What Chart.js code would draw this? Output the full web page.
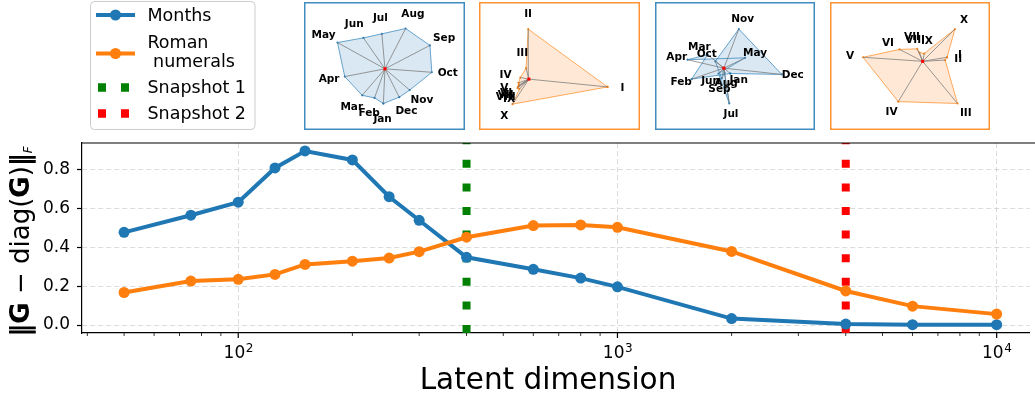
<!DOCTYPE html>
<html>
<head>
<meta charset="utf-8">
<script src="https://cdn.jsdelivr.net/npm/chart.js@4.4.1/dist/chart.umd.min.js"></script>
<style>
  html, body { margin: 0; padding: 0; background: #fff; overflow: hidden; width: 1035px; height: 393px; }
  #wrap { position: relative; width: 1035px; height: 393px; overflow: hidden; }
  #main { position: absolute; left: 0; top: 0; width: 1035px; height: 393px; }
  .inset { position: absolute; background: #fff; }
  .inset canvas { position: absolute; left: 0; top: 0; }
</style>
</head>
<body>
<div id="wrap">
  <canvas id="main" width="1035" height="393"></canvas>
</div>
<script>
// ---- main curve data -------------------------------------------------------
const latentDims   = [50, 75, 100, 125, 150, 200, 250, 300, 400, 600, 800, 1000, 2000, 4000, 6000, 10000];
const monthsNorm   = [0.476, 0.564, 0.631, 0.807, 0.894, 0.848, 0.659, 0.538, 0.348, 0.286, 0.241, 0.196, 0.033, 0.005, 0.002, 0.002];
const romanNorm    = [0.167, 0.226, 0.235, 0.260, 0.311, 0.328, 0.344, 0.377, 0.451, 0.511, 0.514, 0.502, 0.378, 0.175, 0.097, 0.056];
const snapshotDims = [400, 4000];
const snapshotNames = ['Snapshot 1', 'Snapshot 2'];
const seriesNames  = ['Months', 'Roman\n numerals'];

// ---- tick values -----------------------------------------------------------
const yTickValues  = [0.0, 0.2, 0.4, 0.6, 0.8];
const xMajorTicks  = [100, 1000, 10000];
const xMinorTicks  = [40, 50, 60, 70, 80, 90, 200, 300, 400, 500, 600, 700, 800, 900,
                      2000, 3000, 4000, 5000, 6000, 7000, 8000, 9000];

// ---- inset data: 2-D projections of the token embeddings ---------------------
const monthNames = ['Jan', 'Feb', 'Mar', 'Apr', 'May', 'Jun', 'Jul', 'Aug', 'Sep', 'Oct', 'Nov', 'Dec'];
const romanNames = ['I', 'II', 'III', 'IV', 'V', 'VI', 'VII', 'VIII', 'IX', 'X'];
const monthsAtSnapshot1 = [[-1.7, -37], [-11, -31], [-24, -28.3], [-42.3, -8.3], [-50, 28], [-22.7, 33],
                           [-3.3, 37.3], [21.7, 43], [47.3, 25], [49.3, -3.7], [26, -22.7], [15, -30.3]];
const romanAtSnapshot1  = [[82.7, -8.3], [-0.7, 53.3], [-3, 11.7], [-9, 1.7], [-11, -4], [-10.5, -6.5],
                           [-11.5, -8], [-12, -9.5], [-10, -10.5], [-17.3, -26.7]];
const monthsAtSnapshot2 = [[6.7, -5.7], [-34, -11.7], [-17, 14.5], [-38.3, 9], [22.3, 11], [-5.7, -5.7],
                           [5.7, -37.7], [0.7, -5], [-2.3, -11], [-9, 7.3], [15.7, 41.7], [61, -6.7]];
const romanAtSnapshot2  = [[25.7, 4.3], [23.7, 1.3], [36.7, -45], [-25.7, -43], [-62.7, 4.3], [-24.3, 12.7],
                           [-5.7, 13.3], [-3.3, 9.3], [1.7, 8.3], [34, 34.3]];

// ---- styling ---------------------------------------------------------------
const FONT = 'DejaVu Sans';
const BLUE = '#1f77b4', ORANGE = '#ff7f0e', GREEN = '#008000', RED = '#ff0000';
const BLUE_RGB = '31,119,180', ORANGE_RGB = '255,127,14';
const GRID = 'rgba(176,176,176,0.45)';
// the axes run past the right edge of the page; only the visible part is drawn
const X_MIN = Math.pow(10, 1.588), X_MAX = Math.pow(10, 4.0866);
const Y_MIN = -0.041, Y_MAX = 0.935;

Chart.defaults.font.family = FONT;
Chart.defaults.animation = false;

const toXY = (xs, ys) => xs.map((x, i) => ({ x: x, y: ys[i] }));

// legend, axis titles, x tick labels and the top spine
const decorations = {
  id: 'decorations',
  afterDraw(chart) {
    const ctx = chart.ctx;
    const area = chart.chartArea;
    const xs = chart.scales.x;
    ctx.save();

    // top spine
    ctx.strokeStyle = '#000';
    ctx.lineWidth = 1.2;
    ctx.beginPath();
    ctx.moveTo(area.left, area.top);
    ctx.lineTo(chart.width, area.top);
    ctx.stroke();

    // x tick marks (major + minor)
    const drawTick = (v, len, lw) => {
      const px = xs.getPixelForValue(v);
      if (px < area.left - 0.5 || px > area.right + 0.5) return;
      ctx.lineWidth = lw;
      ctx.beginPath();
      ctx.moveTo(px, area.bottom);
      ctx.lineTo(px, area.bottom + len);
      ctx.stroke();
    };
    xMinorTicks.forEach(v => drawTick(v, 3, 0.8));
    xMajorTicks.forEach(v => drawTick(v, 5, 1.2));

    // x tick labels 10^n
    ctx.fillStyle = '#000';
    ctx.textBaseline = 'alphabetic';
    ctx.textAlign = 'left';
    xMajorTicks.forEach(v => {
      const px = xs.getPixelForValue(v);
      const exp = String(Math.round(Math.log10(v)));
      ctx.font = '17px ' + FONT;
      const wBase = ctx.measureText('10').width;
      ctx.font = '12px ' + FONT;
      const wExp = ctx.measureText(exp).width;
      const x0 = px - (wBase + wExp) / 2;
      ctx.font = '17px ' + FONT;
      ctx.fillText('10', x0, 358);
      ctx.font = '12px ' + FONT;
      ctx.fillText(exp, x0 + wBase + 0.5, 351.5);
    });

    // x axis title
    ctx.font = '29.5px ' + FONT;
    ctx.textAlign = 'center';
    ctx.fillText('Latent dimension', 548, 389);

    // y axis title: ||G - diag(G)||_F
    const parts = [
      { t: '\u2016', f: 'bold 26px ' + FONT, dy: 0 },
      { t: 'G', f: 'bold 26px ' + FONT, dy: 0 },
      { t: ' \u2212 ', f: '26px ' + FONT, dy: 0 },
      { t: 'diag(', f: '26px ' + FONT, dy: 0 },
      { t: 'G', f: 'bold 26px ' + FONT, dy: 0 },
      { t: ')', f: '26px ' + FONT, dy: 0 },
      { t: '\u2016', f: 'bold 26px ' + FONT, dy: 0 },
      { t: 'F', f: 'italic 12px ' + FONT, dy: 3 }
    ];
    let total = 0;
    parts.forEach(p => { ctx.font = p.f; p.w = ctx.measureText(p.t).width; total += p.w; });
    ctx.translate(28.5, 241.5);
    ctx.rotate(-Math.PI / 2);
    ctx.textAlign = 'left';
    let cx = -total / 2;
    parts.forEach(p => { ctx.font = p.f; ctx.fillText(p.t, cx, p.dy); cx += p.w; });
    ctx.setTransform(1, 0, 0, 1, 0, 0);

    // legend
    const lx = 90.5, ly = 1.5, lw = 164.5, lh = 128;
    ctx.beginPath();
    ctx.roundRect(lx, ly, lw, lh, 4);
    ctx.fillStyle = 'rgba(255,255,255,0.85)';
    ctx.fill();
    ctx.strokeStyle = '#cccccc';
    ctx.lineWidth = 1;
    ctx.stroke();

    const sx0 = 96, sx1 = 135, tx = 147.5;
    const lineSample = (y, color) => {
      ctx.strokeStyle = color; ctx.lineWidth = 4; ctx.setLineDash([]);
      ctx.beginPath(); ctx.moveTo(sx0, y); ctx.lineTo(sx1, y); ctx.stroke();
      ctx.fillStyle = color;
      ctx.beginPath(); ctx.arc((sx0 + sx1) / 2, y, 5.5, 0, Math.PI * 2); ctx.fill();
    };
    const dashSample = (y, color) => {
      ctx.strokeStyle = color; ctx.lineWidth = 8.5; ctx.lineCap = 'butt';
      ctx.setLineDash([8, 15]);
      ctx.beginPath(); ctx.moveTo(98, y); ctx.lineTo(130, y); ctx.stroke();
      ctx.setLineDash([]);
    };
    lineSample(15, BLUE);
    lineSample(53.5, ORANGE);
    dashSample(87.5, GREEN);
    dashSample(113.5, RED);

    ctx.fillStyle = '#000';
    ctx.font = '17.5px ' + FONT;
    ctx.textAlign = 'left';
    ctx.textBaseline = 'alphabetic';
    ctx.fillText(seriesNames[0], tx, 21);
    const romanLines = seriesNames[1].split('\n');
    ctx.fillText(romanLines[0], tx, 48);
    ctx.fillText(romanLines[1], tx, 66.5);
    ctx.fillText(snapshotNames[0], tx, 93);
    ctx.fillText(snapshotNames[1], tx, 118.5);

    ctx.restore();
  }
};

const snapshotDatasets = snapshotDims.map((d, i) => ({
  label: snapshotNames[i],
  data: [{ x: d, y: Y_MIN }, { x: d, y: Y_MAX }],
  borderColor: i === 0 ? GREEN : RED,
  borderWidth: 8,
  borderDash: [8, 15.6],
  borderCapStyle: 'butt',
  pointRadius: 0,
  fill: false,
  order: 10
}));

new Chart(document.getElementById('main'), {
  type: 'line',
  data: {
    datasets: [
      {
        label: 'Months',
        data: toXY(latentDims, monthsNorm),
        borderColor: BLUE, backgroundColor: BLUE,
        borderWidth: 4, pointRadius: 5.5, pointBorderWidth: 0,
        pointBackgroundColor: BLUE, fill: false, tension: 0, order: 2
      },
      {
        label: 'Roman numerals',
        data: toXY(latentDims, romanNorm),
        borderColor: ORANGE, backgroundColor: ORANGE,
        borderWidth: 4, pointRadius: 5.5, pointBorderWidth: 0,
        pointBackgroundColor: ORANGE, fill: false, tension: 0, order: 1
      },
      ...snapshotDatasets
    ]
  },
  options: {
    responsive: false,
    maintainAspectRatio: false,
    devicePixelRatio: 1,
    animation: false,
    layout: { padding: { left: 0, top: 143, right: 1, bottom: 0 } },
    plugins: { legend: { display: false }, tooltip: { enabled: false } },
    scales: {
      x: {
        type: 'logarithmic',
        min: X_MIN, max: X_MAX,
        afterBuildTicks: s => {
          s.ticks = xMinorTicks.concat(xMajorTicks).sort((a, b) => a - b)
            .map(v => ({ value: v, major: xMajorTicks.includes(v) }));
        },
        afterFit: s => { s.height = 60; },
        ticks: { display: false },
        grid: {
          drawTicks: false,
          lineWidth: 1,
          color: c => (c.tick && xMajorTicks.includes(c.tick.value)) ? GRID : 'rgba(0,0,0,0)'
        },
        border: { display: true, color: '#000', width: 1.2, dash: [5, 3] }
      },
      y: {
        type: 'linear',
        min: Y_MIN, max: Y_MAX,
        afterBuildTicks: s => { s.ticks = yTickValues.map(v => ({ value: v })); },
        afterFit: s => { s.width = 82; },
        ticks: {
          color: '#000', padding: 7,
          font: { family: FONT, size: 17 },
          callback: v => Number(v).toFixed(1)
        },
        grid: { color: GRID, lineWidth: 1, tickLength: 5, tickColor: '#000', tickWidth: 1.2 },
        border: { display: true, color: '#000', width: 1.2, dash: [5, 3] }
      }
    }
  },
  plugins: [decorations]
});

// ---- inset panels ----------------------------------------------------------
const insets = [
  { left: 304, top: 2, w: 161, h: 128, cx: 81,   cy: 67,   pts: monthsAtSnapshot1, names: monthNames, rgb: BLUE_RGB,   gap: 16 },
  { left: 479, top: 2, w: 161, h: 128, cx: 48.3, cy: 78,   pts: romanAtSnapshot1,  names: romanNames, rgb: ORANGE_RGB, gap: 15 },
  { left: 655, top: 2, w: 160, h: 128, cx: 68.3, cy: 66.3, pts: monthsAtSnapshot2, names: monthNames, rgb: BLUE_RGB,   gap: 11 },
  { left: 830, top: 2, w: 160, h: 128, cx: 93.3, cy: 59,   pts: romanAtSnapshot2,  names: romanNames, rgb: ORANGE_RGB, gap: 13 }
];

insets.forEach(cfg => {
  const div = document.createElement('div');
  div.className = 'inset';
  div.style.left = cfg.left + 'px';
  div.style.top = cfg.top + 'px';
  div.style.width = cfg.w + 'px';
  div.style.height = cfg.h + 'px';
  const cv = document.createElement('canvas');
  cv.width = cfg.w; cv.height = cfg.h;
  cv.style.width = cfg.w + 'px'; cv.style.height = cfg.h + 'px';
  div.appendChild(cv);
  document.getElementById('wrap').appendChild(div);

  const ring = cfg.pts.concat([cfg.pts[0]]).map(p => ({ x: p[0], y: p[1] }));
  const spokes = cfg.pts.map(p => ({
    data: [{ x: 0, y: 0 }, { x: p[0], y: p[1] }],
    borderColor: 'rgba(120,120,120,0.75)', borderWidth: 1,
    pointRadius: 0, fill: false, order: 2
  }));

  const labelsAndFrame = {
    id: 'labelsAndFrame',
    afterDraw(chart) {
      const ctx = chart.ctx;
      const xs = chart.scales.x, ys = chart.scales.y;
      const ox = xs.getPixelForValue(0), oy = ys.getPixelForValue(0);
      ctx.save();
      ctx.font = 'bold 10.5px ' + FONT;
      ctx.fillStyle = '#000';
      ctx.textAlign = 'center';
      ctx.textBaseline = 'middle';
      cfg.pts.forEach((p, i) => {
        const px = xs.getPixelForValue(p[0]), py = ys.getPixelForValue(p[1]);
        const dx = px - ox, dy = py - oy;
        const d = Math.hypot(dx, dy) || 1;
        ctx.fillText(cfg.names[i], px + dx / d * cfg.gap, py + dy / d * cfg.gap);
      });
      ctx.strokeStyle = 'rgba(' + cfg.rgb + ',0.85)';
      ctx.lineWidth = 1.5;
      ctx.strokeRect(0.75, 0.75, cfg.w - 1.5, cfg.h - 1.5);
      ctx.restore();
    }
  };

  new Chart(cv, {
    type: 'line',
    data: {
      datasets: [
        {
          data: [{ x: 0, y: 0 }],
          showLine: false, pointStyle: 'rect', pointRadius: 2.2,
          pointBackgroundColor: RED, pointBorderWidth: 0, order: 0
        },
        ...spokes,
        {
          data: ring,
          borderColor: 'rgba(' + cfg.rgb + ',0.65)',
          backgroundColor: 'rgba(' + cfg.rgb + ',0.17)',
          borderWidth: 1, fill: 'shape', tension: 0,
          pointRadius: 1.1, pointBorderWidth: 0,
          pointBackgroundColor: 'rgba(' + cfg.rgb + ',0.9)',
          order: 3
        }
      ]
    },
    options: {
      responsive: false,
      maintainAspectRatio: false,
      devicePixelRatio: 1,
      animation: false,
      layout: { padding: 0 },
      plugins: { legend: { display: false }, tooltip: { enabled: false } },
      scales: {
        x: { type: 'linear', display: false, min: -cfg.cx, max: cfg.w - cfg.cx },
        y: { type: 'linear', display: false, min: -(cfg.h - cfg.cy), max: cfg.cy }
      }
    },
    plugins: [labelsAndFrame]
  });
});
</script>
</body>
</html>
